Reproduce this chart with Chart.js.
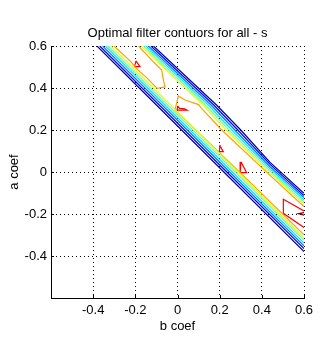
<!DOCTYPE html>
<html>
<head>
<meta charset="utf-8">
<script src="https://cdn.jsdelivr.net/npm/chart.js@4/dist/chart.umd.min.js"></script>
<style>
  html, body { margin: 0; padding: 0; background: #fff; }
  canvas { display: block; }
</style>
</head>
<body>
<canvas id="myChart" width="336" height="356"></canvas>
<script>
// tick positions (b coef on x, a coef on y)
const xTicks = [-0.4, -0.2, 0, 0.2, 0.4, 0.6];
const yTicks = [-0.4, -0.2, 0, 0.2, 0.4, 0.6];

// contour lines, points are [b, a]
// lower side of the valley (outermost first)
const lowerNavy   = [[-0.382, 0.6], [0.220, 0], [0.6, -0.379]];
const lowerBlue   = [[-0.369, 0.6], [0.234, 0], [0.6, -0.365]];
const lowerSky    = [[-0.355, 0.6], [0.247, 0], [0.6, -0.352]];
const lowerCyan   = [[-0.342, 0.6], [0.260, 0], [0.6, -0.339]];
const lowerGreen  = [[-0.329, 0.6], [0.274, 0], [0.6, -0.325]];
const lowerYellow = [[-0.315, 0.6], [0.287, 0], [0.6, -0.312]];
// upper side of the valley (outermost first)
const upperNavy   = [[-0.114, 0.6], [0.185, 0.319], [0.300, 0.2], [0.439, 0.046], [0.6, -0.101]];
const upperBlue   = [[-0.126, 0.6], [0.172, 0.319], [0.286, 0.2], [0.439, 0.036], [0.6, -0.112]];
const upperSky    = [[-0.138, 0.6], [0.159, 0.319], [0.272, 0.2], [0.439, 0.025], [0.6, -0.122]];
const upperCyan   = [[-0.149, 0.6], [0.146, 0.319], [0.258, 0.2], [0.439, 0.015], [0.6, -0.133]];
const upperGreen  = [[-0.161, 0.6], [0.133, 0.319], [0.244, 0.2], [0.439, 0.005], [0.6, -0.143]];
const upperYellow = [[-0.173, 0.6], [0.121, 0.319], [0.230, 0.2], [0.439, -0.006], [0.6, -0.154]];
// orange level: two separate regions
const orangeTop = [[-0.301, 0.6], [-0.225, 0.529], [-0.192, 0.490], [-0.145, 0.448],
  [-0.097, 0.398], [-0.059, 0.405], [-0.067, 0.438], [-0.075, 0.486],
  [-0.091, 0.501], [-0.122, 0.533], [-0.185, 0.6]];
const orangeRight = [[0.6, -0.299], [0.296, -0.002], [-0.012, 0.295], [0.004, 0.362],
  [0.036, 0.343], [0.100, 0.321], [0.110, 0.308], [0.154, 0.260],
  [0.210, 0.2], [0.439, -0.016], [0.6, -0.164]];
// red level islands
const red1 = [[-0.197, 0.529], [-0.204, 0.502], [-0.178, 0.502], [-0.197, 0.529]];
const red2 = [[0.002, 0.312], [-0.003, 0.295], [0.045, 0.295], [0.031, 0.302], [0.010, 0.303], [0.002, 0.312]];
const red3 = [[0.202, 0.129], [0.198, 0.097], [0.217, 0.097], [0.206, 0.117], [0.202, 0.129]];
const red4 = [[0.301, 0.049], [0.297, -0.003], [0.328, -0.003], [0.301, 0.049]];
const red5 = [[0.6, -0.186], [0.502, -0.130], [0.502, -0.197], [0.6, -0.264]];
// dark red level
const darkRed1 = [[0.6, -0.193], [0.574, -0.198], [0.6, -0.205]];

const levelColors = {
  navy: '#00008f', blue: '#0000ff', sky: '#0078ff', cyan: '#00e8ff',
  green: '#78ff88', yellow: '#d8ff28', orange: '#ffa000', red: '#ff0000', darkred: '#800000'
};

const lines = [
  [lowerNavy, 'navy'], [lowerBlue, 'blue'], [lowerSky, 'sky'], [lowerCyan, 'cyan'],
  [lowerGreen, 'green'], [lowerYellow, 'yellow'],
  [upperNavy, 'navy'], [upperBlue, 'blue'], [upperSky, 'sky'], [upperCyan, 'cyan'],
  [upperGreen, 'green'], [upperYellow, 'yellow'],
  [orangeTop, 'orange'], [orangeRight, 'orange'],
  [red1, 'red'], [red2, 'red'], [red3, 'red'], [red4, 'red'], [red5, 'red'],
  [darkRed1, 'darkred']
];

const fontFamily = '"Liberation Sans", Arial, Helvetica, sans-serif';
const baseFont = { family: fontFamily, size: 13, lineHeight: '16px' };

// inward tick marks, like matlab
const innerTicks = {
  id: 'innerTicks',
  afterDatasetsDraw(chart) {
    const { ctx, chartArea, scales } = chart;
    ctx.save();
    ctx.strokeStyle = '#000';
    ctx.lineWidth = 1;
    ctx.setLineDash([]);
    ctx.beginPath();
    xTicks.forEach(v => {
      const px = Math.round(scales.x.getPixelForValue(v)) + 0.5;
      ctx.moveTo(px, chartArea.bottom);
      ctx.lineTo(px, chartArea.bottom - 3);
    });
    yTicks.forEach(v => {
      const py = Math.round(scales.y.getPixelForValue(v)) + 0.5;
      ctx.moveTo(chartArea.left, py);
      ctx.lineTo(chartArea.left + 3, py);
    });
    ctx.stroke();
    ctx.restore();
  }
};

const fmt = v => String(Math.round(v * 10) / 10);

new Chart(document.getElementById('myChart').getContext('2d'), {
  type: 'scatter',
  data: {
    datasets: lines.map(([pts, level]) => ({
      data: pts.map(([b, a]) => ({ x: b, y: a })),
      showLine: true,
      borderColor: levelColors[level],
      borderWidth: 1.2,
      pointRadius: 0,
      fill: false,
      tension: 0
    }))
  },
  options: {
    responsive: false,
    animation: false,
    events: [],
    layout: { padding: { left: 0, right: 32, top: 0, bottom: 0 } },
    plugins: {
      legend: { display: false },
      tooltip: { enabled: false },
      title: {
        display: true,
        fullSize: false,
        text: 'Optimal filter contuors for all - s',
        color: '#000',
        font: { ...baseFont, weight: 'normal' },
        padding: { top: 25, bottom: 5 }
      }
    },
    scales: {
      x: {
        type: 'linear',
        position: 'bottom',
        min: -0.6,
        max: 0.6,
        afterBuildTicks: s => { s.ticks = xTicks.map(v => ({ value: v })); },
        afterFit: s => { s.height = 58; },
        ticks: { color: '#000', font: baseFont, padding: 4, maxRotation: 0, callback: fmt },
        grid: { color: '#000', lineWidth: 1, drawTicks: false },
        border: { display: true, color: '#000', width: 1, dash: [1, 3] },
        title: { display: true, text: 'b coef', color: '#000', font: baseFont, padding: { top: 2, bottom: 22 } }
      },
      y: {
        type: 'linear',
        position: 'left',
        min: -0.6,
        max: 0.6,
        afterBuildTicks: s => { s.ticks = yTicks.map(v => ({ value: v })); },
        afterFit: s => { s.width = 51; },
        ticks: { color: '#000', font: baseFont, padding: 4, callback: fmt },
        grid: { color: '#000', lineWidth: 1, drawTicks: false },
        border: { display: true, color: '#000', width: 1, dash: [1, 3] },
        title: { display: true, text: 'a coef', color: '#000', font: baseFont, padding: { top: 6, bottom: 2 } }
      }
    }
  },
  plugins: [innerTicks]
});
</script>
</body>
</html>
